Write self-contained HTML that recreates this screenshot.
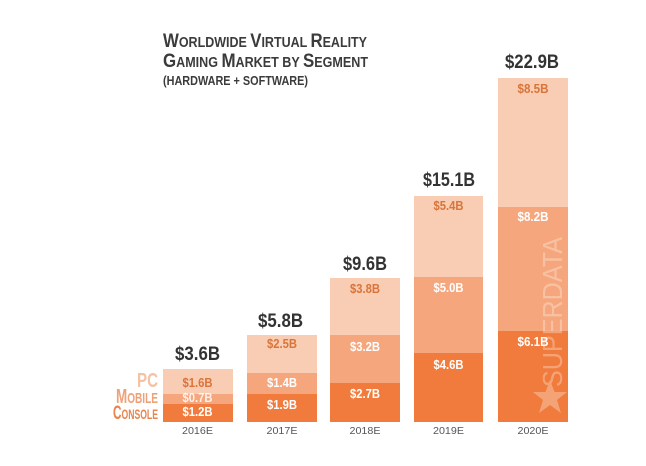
<!DOCTYPE html>
<html><head><meta charset="utf-8"><style>
html,body{margin:0;padding:0;background:#fff;}
svg{display:block;}
text{font-family:"Liberation Sans",sans-serif;}
</style></head><body>
<svg width="646" height="466" viewBox="0 0 646 466" xmlns="http://www.w3.org/2000/svg">
<rect width="646" height="466" fill="#fff"/>
<!-- Title -->
<g fill="#3b3b3b" font-weight="bold">
<text x="163" y="47" textLength="204" lengthAdjust="spacingAndGlyphs"><tspan font-size="19.5">W</tspan><tspan font-size="14.5">ORLDWIDE </tspan><tspan font-size="19.5">V</tspan><tspan font-size="14.5">IRTUAL </tspan><tspan font-size="19.5">R</tspan><tspan font-size="14.5">EALITY</tspan></text>
<text x="163" y="67" textLength="205" lengthAdjust="spacingAndGlyphs"><tspan font-size="19.5">G</tspan><tspan font-size="14.5">AMING </tspan><tspan font-size="19.5">M</tspan><tspan font-size="14.5">ARKET BY </tspan><tspan font-size="19.5">S</tspan><tspan font-size="14.5">EGMENT</tspan></text>
<text x="163" y="85" font-size="13" textLength="145" lengthAdjust="spacingAndGlyphs">(HARDWARE + SOFTWARE)</text>
</g>
<!-- Bars -->
<g>
<rect x="163" y="369" width="70" height="25" fill="#f9cdb3"/>
<rect x="163" y="394" width="70" height="10" fill="#f5a67c"/>
<rect x="163" y="404" width="70" height="18" fill="#f07b3c"/>

<rect x="247" y="335" width="70" height="38" fill="#f9cdb3"/>
<rect x="247" y="373" width="70" height="21" fill="#f5a67c"/>
<rect x="247" y="394" width="70" height="28" fill="#f07b3c"/>

<rect x="330" y="278" width="70" height="57" fill="#f9cdb3"/>
<rect x="330" y="335" width="70" height="48" fill="#f5a67c"/>
<rect x="330" y="383" width="70" height="39" fill="#f07b3c"/>

<rect x="414" y="196" width="69" height="81" fill="#f9cdb3"/>
<rect x="414" y="277" width="69" height="76" fill="#f5a67c"/>
<rect x="414" y="353" width="69" height="69" fill="#f07b3c"/>

<rect x="498" y="78" width="70" height="129" fill="#f9cdb3"/>
<rect x="498" y="207" width="70" height="124" fill="#f5a67c"/>
<rect x="498" y="331" width="70" height="91" fill="#f07b3c"/>
</g>
<!-- Watermark -->
<g fill="#ffffff" opacity="0.3">
<text transform="translate(562,387) rotate(-90)" font-size="28" textLength="150" lengthAdjust="spacingAndGlyphs">SUPERDATA</text>
<polygon points="550,380 554.5,392 567,392 557,400 561,413 550,405 539,413 543,400 533,392 545.5,392"/>
</g>
<!-- Totals -->
<g fill="#333" font-weight="bold" font-size="19">
<text x="175" y="360" textLength="45" lengthAdjust="spacingAndGlyphs">$3.6B</text>
<text x="258" y="327" textLength="45" lengthAdjust="spacingAndGlyphs">$5.8B</text>
<text x="343" y="270" textLength="44" lengthAdjust="spacingAndGlyphs">$9.6B</text>
<text x="423" y="186" textLength="52" lengthAdjust="spacingAndGlyphs">$15.1B</text>
<text x="505" y="68" textLength="54" lengthAdjust="spacingAndGlyphs">$22.9B</text>
</g>
<!-- Segment labels -->
<g font-weight="bold" font-size="12.5" text-anchor="middle">
<g fill="#d9743a">
<text x="197.5" y="387" textLength="30" lengthAdjust="spacingAndGlyphs">$1.6B</text>
<text x="282" y="348" textLength="30" lengthAdjust="spacingAndGlyphs">$2.5B</text>
<text x="365" y="293" textLength="30" lengthAdjust="spacingAndGlyphs">$3.8B</text>
<text x="448.5" y="210" textLength="30" lengthAdjust="spacingAndGlyphs">$5.4B</text>
<text x="533" y="93" textLength="31" lengthAdjust="spacingAndGlyphs">$8.5B</text>
</g>
<g fill="#ffffff">
<text x="197.5" y="402" textLength="30" lengthAdjust="spacingAndGlyphs" opacity="0.85">$0.7B</text>
<text x="197.5" y="416" textLength="30" lengthAdjust="spacingAndGlyphs">$1.2B</text>
<text x="282" y="387" textLength="30" lengthAdjust="spacingAndGlyphs">$1.4B</text>
<text x="282" y="409" textLength="30" lengthAdjust="spacingAndGlyphs">$1.9B</text>
<text x="365" y="351" textLength="30" lengthAdjust="spacingAndGlyphs">$3.2B</text>
<text x="365" y="398" textLength="30" lengthAdjust="spacingAndGlyphs">$2.7B</text>
<text x="448.5" y="292" textLength="30" lengthAdjust="spacingAndGlyphs">$5.0B</text>
<text x="448.5" y="369" textLength="30" lengthAdjust="spacingAndGlyphs">$4.6B</text>
<text x="533" y="221" textLength="31" lengthAdjust="spacingAndGlyphs">$8.2B</text>
<text x="533" y="346" textLength="31" lengthAdjust="spacingAndGlyphs">$6.1B</text>
</g>
</g>
<!-- Legend -->
<g font-weight="bold" text-anchor="end">
<text x="158" y="387" fill="#f4c2a4" font-size="20" textLength="21" lengthAdjust="spacingAndGlyphs">PC</text>
<text x="158" y="403" fill="#eda27a" textLength="42" lengthAdjust="spacingAndGlyphs"><tspan font-size="20">M</tspan><tspan font-size="15">OBILE</tspan></text>
<text x="158" y="419" fill="#e9844c" textLength="45" lengthAdjust="spacingAndGlyphs"><tspan font-size="19">C</tspan><tspan font-size="14">ONSOLE</tspan></text>
</g>
<!-- Years -->
<g fill="#555" font-size="10.5" text-anchor="middle">
<text x="197.5" y="434" textLength="31" lengthAdjust="spacingAndGlyphs">2016E</text>
<text x="282" y="434" textLength="31" lengthAdjust="spacingAndGlyphs">2017E</text>
<text x="365" y="434" textLength="31" lengthAdjust="spacingAndGlyphs">2018E</text>
<text x="448.5" y="434" textLength="31" lengthAdjust="spacingAndGlyphs">2019E</text>
<text x="533" y="434" textLength="31" lengthAdjust="spacingAndGlyphs">2020E</text>
</g>
</svg>
</body></html>
